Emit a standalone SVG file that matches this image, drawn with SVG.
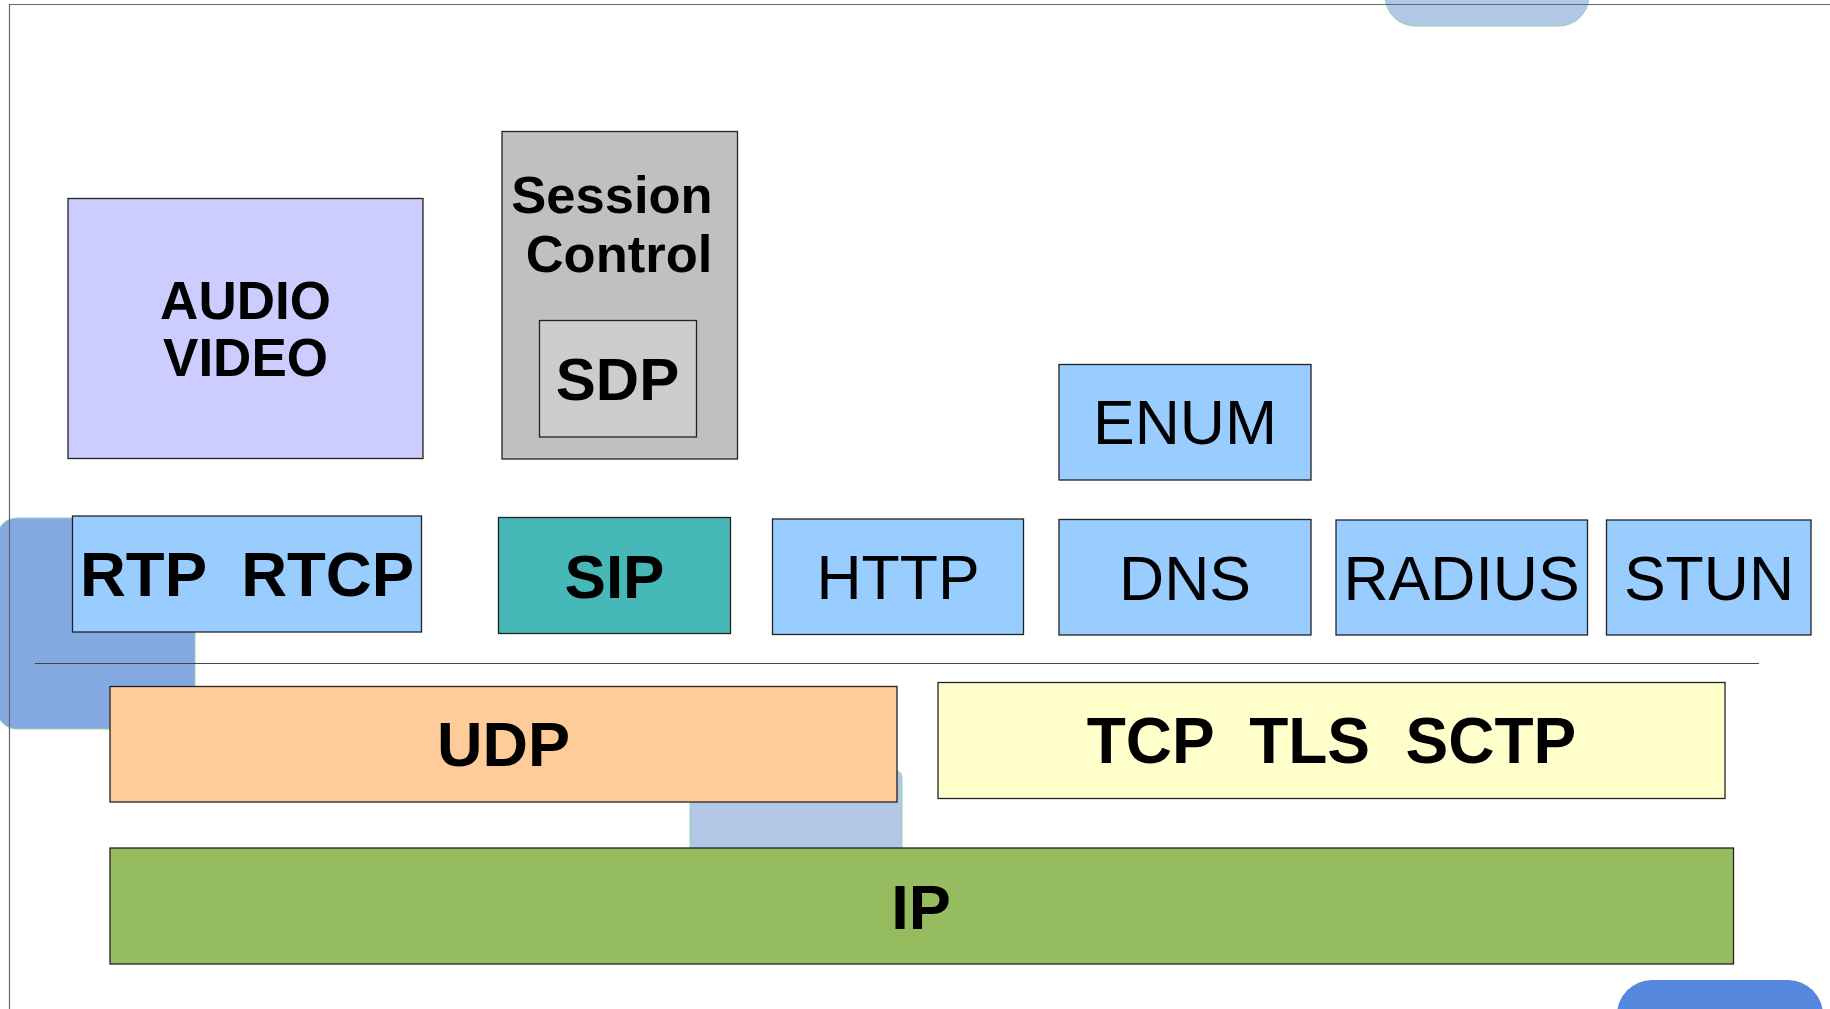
<svg xmlns="http://www.w3.org/2000/svg" width="1830" height="1009" viewBox="0 0 1830 1009">
  <style>
    .box { stroke: #222; stroke-width: 1.3; }
    .blob { stroke: #96d2ae; stroke-width: 1; }
    .b { font-family: "Liberation Sans", Arial, sans-serif; font-weight: bold; fill: #000; text-anchor: middle; }
    .r { font-family: "Liberation Sans", Arial, sans-serif; font-weight: normal; fill: #000; text-anchor: middle; font-size: 62.5px; }
  </style>
  <rect width="1830" height="1009" fill="#ffffff"/>
  <g id="decor">
    <rect class="blob" x="1385" y="-40" width="204" height="66" rx="30" fill="#b2c6e6"/>
    <rect class="blob" x="-3" y="518" width="198" height="211" rx="20" fill="#84a8e0"/>
    <rect class="blob" x="690" y="770" width="212" height="120" rx="8" fill="#b2c6e6"/>
    <rect x="1617" y="980" width="206" height="70" rx="35" fill="#5689dd"/>
    <path d="M9.5 1009 V4.5 H1830" fill="none" stroke="#666" stroke-width="1.2"/>
  </g>
  <g id="connectors">
    <line x1="35" y1="663.5" x2="1759" y2="663.5" stroke="#444" stroke-width="1.2"/>
  </g>
  <g id="audio-video">
    <rect class="box" x="68" y="198.5" width="355" height="260" fill="#ccccff"/>
    <text class="b" x="245.5" y="318.5" font-size="53">AUDIO</text>
    <text class="b" x="245.5" y="375.5" font-size="53">VIDEO</text>
  </g>
  <g id="session-control">
    <rect class="box" x="502" y="131.5" width="235.5" height="327.5" fill="#c0c0c0"/>
    <text class="b" x="612" y="213" font-size="52.5">Session</text>
    <text class="b" x="619" y="272" font-size="52.5">Control</text>
  </g>
  <g id="sdp">
    <rect class="box" x="539.5" y="320.5" width="157" height="116.5" fill="#cccccc"/>
    <text class="b" x="617.5" y="400" font-size="60">SDP</text>
  </g>
  <g id="rtp-rtcp">
    <rect class="box" x="72.5" y="516" width="349" height="116" fill="#99ccff"/>
    <text class="b" x="247" y="596" font-size="63.5" xml:space="preserve">RTP  RTCP</text>
  </g>
  <g id="sip">
    <rect class="box" x="498.5" y="517.5" width="232" height="116" fill="#47b8b8"/>
    <text class="b" x="614.5" y="598" font-size="62">SIP</text>
  </g>
  <g id="http">
    <rect class="box" x="772.5" y="519" width="251" height="115.5" fill="#99ccff"/>
    <text class="r" x="898" y="599">HTTP</text>
  </g>
  <g id="enum">
    <rect class="box" x="1059" y="364.5" width="252" height="115.5" fill="#99ccff"/>
    <text class="r" x="1185" y="444">ENUM</text>
  </g>
  <g id="dns">
    <rect class="box" x="1059" y="519.5" width="252" height="115.5" fill="#99ccff"/>
    <text class="r" x="1185" y="600">DNS</text>
  </g>
  <g id="radius">
    <rect class="box" x="1336" y="520" width="251.5" height="115" fill="#99ccff"/>
    <text class="r" x="1461.5" y="600">RADIUS</text>
  </g>
  <g id="stun">
    <rect class="box" x="1606.5" y="520" width="204.5" height="115" fill="#99ccff"/>
    <text class="r" x="1709" y="600">STUN</text>
  </g>
  <g id="udp">
    <rect class="box" x="110" y="686.5" width="787" height="115.5" fill="#ffcc99"/>
    <text class="b" x="503.5" y="766" font-size="63">UDP</text>
  </g>
  <g id="tcp-tls-sctp">
    <rect class="box" x="938" y="682.5" width="787" height="116" fill="#ffffcc"/>
    <text class="b" x="1331.5" y="763" font-size="64" xml:space="preserve">TCP  TLS  SCTP</text>
  </g>
  <g id="ip">
    <rect class="box" x="110" y="848" width="1623.5" height="116" fill="#95bd5f"/>
    <text class="b" x="921" y="928.5" font-size="63">IP</text>
  </g>
</svg>
